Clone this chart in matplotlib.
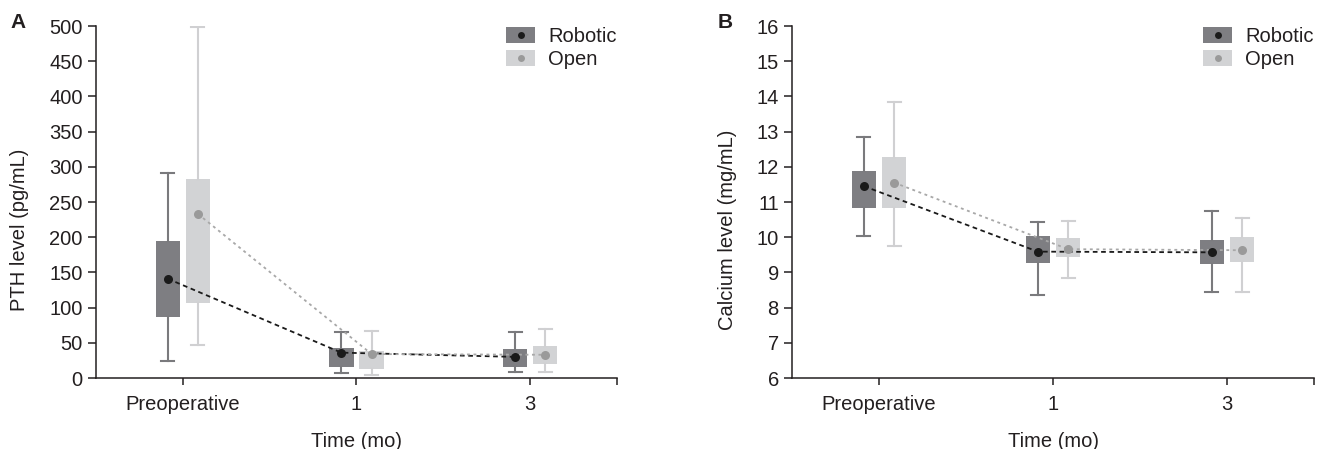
import matplotlib
matplotlib.use("Agg")
import matplotlib.pyplot as plt
from matplotlib.patches import Patch
from matplotlib.lines import Line2D
from matplotlib.ticker import FixedLocator

plt.rcParams['font.family'] = ['Liberation Sans', 'DejaVu Sans']

categories = ["Preoperative", "1", "3"]
groups = ["Robotic", "Open"]

# PTH (pg/mL)
pth_robotic_lo = [24, 7, 8]
pth_robotic_q1 = [87, 16, 15]
pth_robotic_mean = [141, 36, 30]
pth_robotic_q3 = [195, 43, 41]
pth_robotic_hi = [291, 66, 65]

pth_open_lo = [47, 4, 8]
pth_open_q1 = [107, 13, 20]
pth_open_mean = [233, 34, 33]
pth_open_q3 = [283, 38, 45]
pth_open_hi = [499, 67, 70]

# Calcium (mg/mL)
ca_robotic_lo = [10.04, 8.36, 8.44]
ca_robotic_q1 = [10.84, 9.27, 9.24]
ca_robotic_mean = [11.45, 9.59, 9.57]
ca_robotic_q3 = [11.88, 10.03, 9.92]
ca_robotic_hi = [12.84, 10.44, 10.74]

ca_open_lo = [9.76, 8.85, 8.44]
ca_open_q1 = [10.82, 9.43, 9.30]
ca_open_mean = [11.55, 9.66, 9.63]
ca_open_q3 = [12.28, 9.99, 10.00]
ca_open_hi = [13.84, 10.45, 10.55]

TEXT = '#231f20'
BOX_COL = {'Robotic': '#7e7e82', 'Open': '#d2d3d5'}
WHISK_COL = {'Robotic': '#7a7a7d', 'Open': '#d0d0d2'}
DOT_COL = {'Robotic': '#1a1a1a', 'Open': '#9a9a9a'}
LINE_COL = {'Robotic': '#1a1a1a', 'Open': '#a8a8a8'}
DASHES = {'Robotic': (2.6, 2.0), 'Open': (1.6, 2.0)}
OFFSET = {'Robotic': -0.087, 'Open': 0.087}
FS = 14.5


def make_stats(lo, q1, mean, q3, hi):
    return [dict(whislo=a, q1=b, med=c, mean=c, q3=d, whishi=e, fliers=[])
            for a, b, c, d, e in zip(lo, q1, mean, q3, hi)]


def panel(ax, data, yticks, ylim, ylabel, ylab_x):
    xs = list(range(len(categories)))
    for g in groups:
        lo, q1, mean, q3, hi = data[g]
        pos = [x + OFFSET[g] for x in xs]
        ax.bxp(make_stats(lo, q1, mean, q3, hi), positions=pos, widths=0.14,
               capwidths=0.075, patch_artist=True, showfliers=False,
               manage_ticks=False,
               boxprops=dict(facecolor=BOX_COL[g], edgecolor='none', linewidth=0),
               whiskerprops=dict(color=WHISK_COL[g], linewidth=1.5),
               capprops=dict(color=WHISK_COL[g], linewidth=1.5),
               medianprops=dict(linewidth=0))
    for g in groups:
        lo, q1, mean, q3, hi = data[g]
        pos = [x + OFFSET[g] for x in xs]
        ln, = ax.plot(pos, mean, color=LINE_COL[g], linewidth=1.3, zorder=4)
        ln.set_dashes(DASHES[g])
    for g in groups:
        lo, q1, mean, q3, hi = data[g]
        pos = [x + OFFSET[g] for x in xs]
        ax.plot(pos, mean, linestyle='None', marker='o', markersize=6.5,
                color=DOT_COL[g], markeredgewidth=0, zorder=5)

    ax.set_xlim(-0.5, 2.5)
    ax.set_ylim(*ylim)
    ax.set_yticks(yticks)
    ax.set_xticks(xs)
    ax.set_xticklabels(categories)
    ax.xaxis.set_minor_locator(FixedLocator([2.5]))
    for s in ['top', 'right']:
        ax.spines[s].set_visible(False)
    for s in ['left', 'bottom']:
        ax.spines[s].set_color(TEXT)
        ax.spines[s].set_linewidth(1.1)
    ax.tick_params(axis='y', length=6, width=1.1, color=TEXT, labelcolor=TEXT,
                   labelsize=FS, pad=3.5)
    ax.tick_params(axis='x', which='both', length=5, width=1.1, color=TEXT,
                   labelcolor=TEXT, labelsize=FS, pad=7)
    ax.set_xlabel("Time (mo)", fontsize=FS, color=TEXT, labelpad=13)
    ax.set_ylabel(ylabel, fontsize=FS, color=TEXT)
    ax.yaxis.set_label_coords(ylab_x, 0.42)

    handles = [(Patch(facecolor=BOX_COL[g], edgecolor='none'),
                Line2D([], [], linestyle='None', marker='o', markersize=5,
                       color=DOT_COL[g], markeredgewidth=0)) for g in groups]
    leg = ax.legend(handles, groups, loc='upper right', bbox_to_anchor=(1.0, 0.997),
                    frameon=False, fontsize=FS, handlelength=1.45,
                    handleheight=0.85, handletextpad=0.65, labelspacing=0.2,
                    borderaxespad=0, borderpad=0)
    for t in leg.get_texts():
        t.set_color(TEXT)
    return ax


fig = plt.figure(figsize=(13.21, 4.49), dpi=100)
axA = fig.add_axes([96 / 1321, 71 / 449, 521 / 1321, 352 / 449])
axB = fig.add_axes([792 / 1321, 71 / 449, 522 / 1321, 352 / 449])

pth = {'Robotic': (pth_robotic_lo, pth_robotic_q1, pth_robotic_mean, pth_robotic_q3, pth_robotic_hi),
       'Open': (pth_open_lo, pth_open_q1, pth_open_mean, pth_open_q3, pth_open_hi)}
ca = {'Robotic': (ca_robotic_lo, ca_robotic_q1, ca_robotic_mean, ca_robotic_q3, ca_robotic_hi),
      'Open': (ca_open_lo, ca_open_q1, ca_open_mean, ca_open_q3, ca_open_hi)}

panel(axA, pth, list(range(0, 501, 50)), (0, 500), "PTH level (pg/mL)", -0.129)
panel(axB, ca, list(range(6, 17)), (6, 16), "Calcium level (mg/mL)", -0.105)

fig.text(10 / 1321, 1 - 28 / 449, "A", fontsize=15, fontweight='bold', color=TEXT)
fig.text(718 / 1321, 1 - 28 / 449, "B", fontsize=15, fontweight='bold', color=TEXT)

fig.savefig("out.png", dpi=100)
